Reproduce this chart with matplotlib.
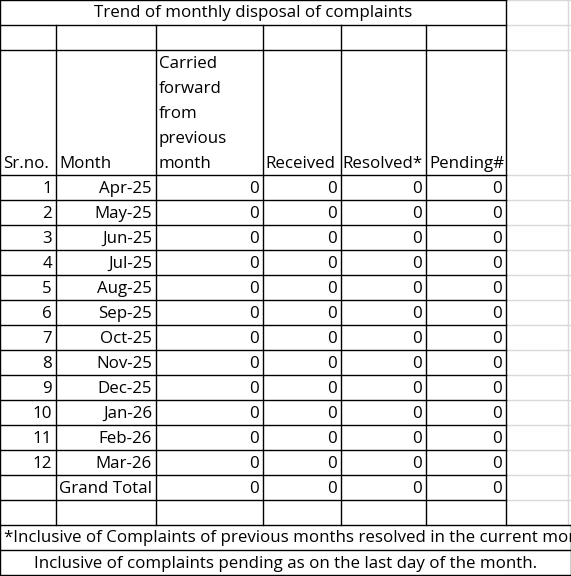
import matplotlib
matplotlib.use("Agg")
import matplotlib.pyplot as plt

title = "Trend of monthly disposal of complaints"
sr_nos = list(range(1, 13))
months = ["Apr-25", "May-25", "Jun-25", "Jul-25", "Aug-25", "Sep-25",
          "Oct-25", "Nov-25", "Dec-25", "Jan-26", "Feb-26", "Mar-26"]
carried = [0] * 12
received = [0] * 12
resolved = [0] * 12
pending = [0] * 12
totals = [sum(carried), sum(received), sum(resolved), sum(pending)]
headers = ["Sr.no.", "Month", "Carried\nforward\nfrom\nprevious\nmonth", "Received", "Resolved*", "Pending#"]
note1 = "*Inclusive of Complaints of previous months resolved in the current month"
note2 = "Inclusive of complaints pending as on the last day of the month."

W, H = 571, 576
fig = plt.figure(figsize=(W/100, H/100), dpi=100)
ax = fig.add_axes([0, 0, 1, 1])
ax.set_xlim(0, W); ax.set_ylim(H, 0); ax.axis("off")
FONT = dict(family="Open Sans", fontsize=12.2, color="black")

xs = [0, 56, 156, 263, 341, 426, 506]
rows = [0, 25, 50, 175] + [175 + 25*(i+1) for i in range(13)] + [525, 550, 575]

for y in rows:
    ax.plot([506, W], [y, y], color="#d9d9d9", lw=1)
ax.plot([568, 568], [0, 525], color="#d9d9d9", lw=1)

def hl(x0, x1, y): ax.plot([x0, x1], [y, y], color="black", lw=1)
def vl(x, y0, y1): ax.plot([x, x], [y0, y1], color="black", lw=1)

hl(0, 506, 0); hl(0, 506, 25)
vl(0, 0, 575); vl(506, 0, 525)
for y in rows[2:-3]:
    hl(0, 506, y)
hl(0, W, 525); hl(0, W, 550); hl(0, W, 575)
vl(W-0.5, 525, 575)
for x in xs[1:-1]:
    vl(x, 25, 525)

ax.text(253, 13, title, ha="center", va="center", **FONT)
ax.text(3, 164, headers[0], ha="left", va="center", **FONT)
ax.text(59, 164, headers[1], ha="left", va="center", **FONT)
for i, line in enumerate(headers[2].split("\n")):
    ax.text(159, 64 + 25*i, line, ha="left", va="center", **FONT)
ax.text(265, 164, headers[3], ha="left", va="center", **FONT)
ax.text(342, 164, headers[4], ha="left", va="center", **FONT)
ax.text(429, 164, headers[5], ha="left", va="center", **FONT)

for i in range(12):
    y = 189 + 25*i
    ax.text(52, y, str(sr_nos[i]), ha="right", va="center", **FONT)
    ax.text(152, y, months[i], ha="right", va="center", **FONT)
    for x, v in zip(xs[3:], [carried[i], received[i], resolved[i], pending[i]]):
        ax.text(x - 4, y, str(v), ha="right", va="center", **FONT)
y = 489
ax.text(59, y, "Grand Total", ha="left", va="center", **FONT)
for x, v in zip(xs[3:], totals):
    ax.text(x - 4, y, str(v), ha="right", va="center", **FONT)

t = ax.text(4, 538, note1, ha="left", va="center", **FONT)
t.set_clip_path(plt.Rectangle((0, 525), 568, 25, transform=ax.transData))
ax.text(286, 564, note2, ha="center", va="center", **FONT)

fig.savefig("out.png", dpi=100)
